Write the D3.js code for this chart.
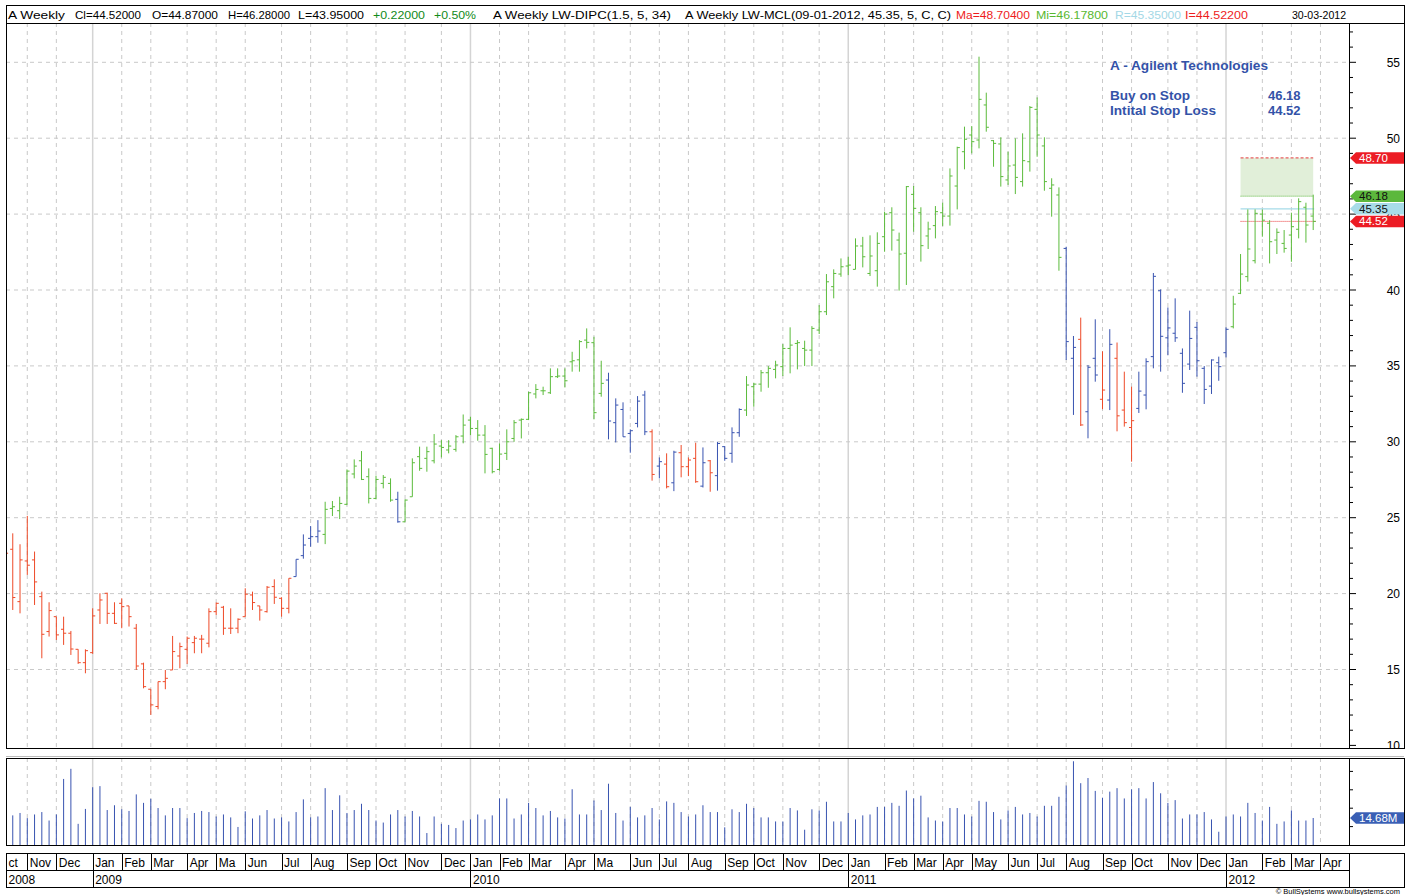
<!DOCTYPE html>
<html><head><meta charset="utf-8">
<script src="https://cdn.jsdelivr.net/npm/d3@7"></script>
<style>body{margin:0;background:#fff;}svg{display:block;}</style>
</head><body>
<svg id="c" width="1413" height="895"></svg>
<script>
// ---------------- DATA ----------------
const startWeek = "2008-10-13"; // Monday of first weekly bar
const opens = [22.3,22.92,19.47,22.15,22.22,19.80,17.50,18.48,17.65,17.39,16.33,15.45,16.11,18.92,20.02,18.70,19.36,19.19,17.72,15.37,
13.70,12.56,14.20,14.97,15.89,16.33,16.77,17.00,16.73,18.81,19.10,17.72,17.72,18.48,19.91,19.19,18.81,20.46,19.69,19.03,
21.12,22.5,23.64,23.75,23.90,25.61,25.46,25.88,27.88,28.75,27.70,26.27,27.26,27.26,26.21,24.73,26.38,29.02,28.91,28.75,
29.72,29.46,29.50,30.38,31.43,30.88,30.44,29.57,28.18,29.24,30.22,31.43,31.48,33.15,33.36,33.23,34.29,34.33,35.27,35.40,
36.70,36.53,33.19,34.07,31.26,32.13,30.55,31.21,33.08,30.66,28.40,28.53,27.30,29.28,28.36,28.91,27.08,28.75,27.77,29.68,
29.24,30.60,32.09,33.63,33.80,34.55,34.77,34.95,36.15,36.48,36.15,36.04,37.36,38.57,40.22,41.05,41.58,41.36,42.90,41.09,
41.27,43.51,45.09,43.29,42.42,46.30,45.09,43.56,44.24,45.09,44.87,46.85,49.11,50.21,49.88,52.19,49.84,49.62,47.25,48.23,
47.14,48.45,51.90,49.49,46.70,46.26,42.74,35.50,36.75,31.98,35.50,32.80,32.75,35.50,32.09,30.94,32.20,33.08,35.61,39.95,
36.85,37.15,35.83,35.12,37.54,34.84,33.67,35.21,35.87,37.58,39.78,40.88,41.93,45.00,44.40,43.29,43.07,43.62,44.00,45.45,
44.87];
const highs = [23.5,23.97,23.25,25.12,22.77,20.13,19.43,18.48,18.48,17.54,16.33,16.33,19.03,20.02,20.06,19.43,19.69,19.19,18.00,15.45,
13.70,14.20,14.97,17.21,16.77,17.17,17.21,17.28,19.03,19.41,19.19,19.03,18.37,20.35,20.13,19.19,20.50,20.94,19.76,21.01,
22.26,23.90,24.45,24.84,26.05,26.10,26.38,28.18,28.84,29.39,28.25,27.77,27.81,27.59,26.71,26.21,28.91,29.68,29.68,30.51,
30.11,30.11,30.44,31.80,31.65,31.43,31.10,29.61,29.90,30.82,31.43,31.54,33.30,33.80,33.63,34.84,34.84,34.84,35.93,36.70,
37.47,36.92,35.34,34.55,32.86,32.60,30.82,33.01,33.36,30.82,28.97,29.24,29.41,29.79,28.97,29.94,29.63,28.80,30.00,29.72,
30.95,32.20,34.33,33.89,34.73,34.99,35.34,36.44,37.54,36.70,36.66,37.62,39.01,41.05,41.36,42.08,42.19,43.40,43.50,43.60,
43.80,45.16,45.45,43.78,46.85,46.85,45.45,44.50,45.53,45.75,48.01,49.44,50.76,50.80,55.37,53.00,49.88,50.06,49.11,49.99,
50.32,52.12,52.69,50.06,47.36,46.76,42.85,36.97,38.18,35.06,38.07,35.96,37.42,36.54,34.62,33.63,34.62,35.50,41.12,40.04,
38.85,39.45,36.15,38.64,37.89,34.99,35.43,35.61,37.54,39.62,42.37,45.31,45.31,45.30,44.60,44.06,43.95,45.09,46.04,45.75,
46.28];
const lows = [21.4,18.92,18.70,21.23,19.25,15.74,17.17,16.95,16.62,15.96,15.37,14.75,16.03,18.00,18.00,18.00,17.72,17.83,14.97,13.76,
12.01,12.38,13.70,14.97,15.08,15.37,16.07,16.07,16.46,18.59,17.28,17.34,17.39,18.48,18.92,18.22,18.75,19.32,18.48,18.70,
21.12,22.3,23.09,23.35,23.26,25.11,24.91,25.83,27.59,27.48,25.94,26.21,26.93,26.05,24.67,24.73,26.38,28.09,28.03,28.58,
28.97,29.24,29.35,29.90,30.44,30.07,27.92,27.92,28.09,28.80,30.00,30.22,31.43,32.86,33.08,33.15,34.20,33.58,34.62,34.62,
36.15,31.48,32.97,30.16,29.96,30.33,29.28,30.95,30.44,27.44,27.59,26.93,26.75,27.66,27.74,27.30,26.99,26.71,26.78,28.75,
28.62,30.33,31.70,32.31,33.30,33.56,34.18,34.33,34.51,34.77,34.99,34.99,37.10,38.35,39.45,40.87,40.98,41.36,41.49,40.92,
40.22,42.52,42.59,39.96,40.33,43.84,41.87,42.70,43.40,44.22,44.24,45.31,47.95,49.00,49.33,50.43,48.12,46.81,46.92,46.32,
46.81,47.80,48.78,46.54,44.83,41.27,35.39,31.77,31.04,30.23,33.96,32.15,32.09,30.69,31.00,28.69,31.90,32.14,34.84,34.62,
35.70,36.58,33.23,34.73,34.29,32.49,33.15,34.02,35.56,37.47,39.73,40.55,41.75,43.51,41.75,42.37,42.46,41.86,43.40,43.12,
43.95];
const closes = [22.66,19.74,22.22,21.87,20.77,17.32,18.88,17.28,17.39,16.35,15.45,16.24,18.53,19.58,18.70,18.04,19.14,18.48,15.23,13.87,
12.67,14.20,14.42,16.18,16.51,17.06,17.06,17.00,18.81,19.36,17.72,17.72,18.31,19.96,19.41,18.92,20.42,19.76,19.03,21.01,
22.26,23.20,23.75,24.12,25.55,25.72,25.94,28.07,28.40,27.52,26.27,27.52,27.66,26.16,24.73,26.16,28.62,28.25,29.35,29.85,
29.63,29.72,30.33,31.10,30.88,30.44,29.17,28.03,29.19,30.00,31.26,31.48,33.23,33.45,33.36,34.29,34.33,34.02,35.34,36.60,
36.55,31.92,33.85,31.37,32.42,30.33,30.73,32.68,30.66,27.85,28.69,27.04,29.32,28.36,28.80,27.37,28.62,27.96,29.89,28.91,
30.60,32.13,33.74,33.80,34.55,34.84,35.06,36.15,36.37,36.53,36.04,37.47,38.57,40.54,41.09,41.53,41.64,42.90,42.19,42.24,
43.07,45.00,43.95,42.37,46.81,45.38,42.92,44.02,45.16,44.87,47.51,49.38,49.93,49.77,52.56,50.72,49.66,47.47,48.17,47.42,
48.52,52.03,50.21,47.14,46.92,42.15,36.60,36.22,31.11,34.91,34.40,33.41,36.42,31.71,31.26,31.39,33.34,35.28,40.90,36.95,
37.50,36.85,33.85,36.81,35.34,33.45,35.39,34.95,37.41,39.07,41.05,42.70,45.05,44.60,43.18,43.80,42.74,44.17,45.82,44.28,
44.52];
// weekly volume, millions of shares
const volumes = [15.0,16.1,17.4,14.6,16.6,17.9,13.3,16.6,35.9,41.4,11.5,19.6,31.4,32.0,19.0,21.6,19.4,18.5,27.5,22.9,
25.1,20.1,16.1,20.1,20.1,14.6,17.4,18.5,17.9,15.5,16.6,15.0,9.8,18.3,14.4,16.1,19.0,14.4,15.0,12.8,
17.9,24.8,15.0,15.5,30.9,19.0,27.0,17.4,19.0,22.4,19.0,13.3,12.2,16.6,19.0,15.5,18.5,15.5,6.5,15.5,
11.5,10.9,9.2,13.3,13.9,16.6,13.9,16.1,25.3,25.3,14.4,16.6,22.9,20.1,16.1,18.5,15.0,14.4,30.3,16.6,
16.6,24.2,19.0,33.3,17.4,13.3,20.7,15.0,16.1,20.1,13.9,23.7,22.9,17.9,15.5,16.6,21.6,17.9,17.9,9.6,
19.4,17.9,22.4,20.1,15.0,15.0,12.8,12.8,20.1,18.8,8.3,19.4,18.8,23.5,12.8,12.8,17.4,13.9,16.1,16.6,
20.7,20.7,22.9,21.3,29.6,25.3,26.8,15.0,13.3,12.8,20.1,20.1,16.6,15.5,24.0,23.5,17.9,13.9,18.8,20.7,
16.6,17.4,15.5,21.3,21.3,26.2,32.3,45.5,33.6,36.4,29.4,25.7,29.0,30.9,25.3,30.3,30.9,25.3,34.2,28.1,
22.9,24.4,14.4,16.6,16.6,17.9,13.9,7.2,15.5,16.6,15.5,22.9,17.4,13.3,20.7,11.5,12.8,18.8,13.3,13.3,
14.68];
// indicator state of each bar: r = red, b = blue, g = green
const barState = ("rrrrrrrrrrrrrrrrrrrrrrrrrrrrrrrrrrrrrrrr" + "bbbb" + "gggggggggg" + "b" +
  "gggggggggggggggggggggggggggg" + "bbbbbb" + "rbrbrrrbrbbbb" +
  "gggggggggggggggggggggggggggggggggggggggggggg" + "bbrbbrbrrr" + "bbbbbbbbbbbbb" + "gggggggggggg").split("");
const monthLabels = ["ct","Nov","Dec","Jan","Feb","Mar","Apr","Ma","Jun","Jul","Aug","Sep","Oct","Nov","Dec",
  "Jan","Feb","Mar","Apr","Ma","Jun","Jul","Aug","Sep","Oct","Nov","Dec",
  "Jan","Feb","Mar","Apr","May","Jun","Jul","Aug","Sep","Oct","Nov","Dec",
  "Jan","Feb","Mar","Apr"];
const yearLabels = ["2008","2009","2010","2011","2012"];
const priceTicks = [10,15,20,25,30,35,40,45,50,55];
const volumeTicks = [10,20,30,40];
const levelValues = [48.70, 46.18, 45.35, 44.52];   // Ma, Mi, R, I
const levelLabels = ["48.70","46.18","45.35","44.52"];
const setupStartIndex = 170;
const lastVolumeLabel = "14.68M";

// ---------------- LAYOUT ----------------
const svg = d3.select("#c");
const L = 6, R = 1404, AX = 1349;
const hTop = 5, pTop = 23, pBot = 748, vTop = 758, vBot = 845, dTop = 853, dMid = 870, dBot = 887;
const nAxis = 182;

const x = d3.scaleLinear().domain([0, 180]).range([5.5, 1313.2]);
const y = d3.scaleLinear().domain([10, 55]).range([745.4, 62.3]);
const yv = d3.scaleLinear().domain([0, 40]).range([vBot, 771.4]);

const t0 = d3.timeParse("%Y-%m-%d")(startWeek);
const weekDates = d3.range(nAxis).map(i => d3.timeWeek.offset(t0, i));
const monthBounds = [], yearBounds = [];
for (let i = 1; i < nAxis; i++) {
  if (weekDates[i].getMonth() !== weekDates[i-1].getMonth()) monthBounds.push(i);
  if (weekDates[i].getFullYear() !== weekDates[i-1].getFullYear()) yearBounds.push(i);
}

const col = {r: "#ee4a28", b: "#3853b0", g: "#5bbb3b"};
const font = "'Liberation Sans', Arial, sans-serif";

const defs = svg.append("defs");
defs.append("clipPath").attr("id", "pclip").append("rect").attr("x", L).attr("y", pTop).attr("width", AX - L).attr("height", pBot - pTop);
defs.append("clipPath").attr("id", "vclip").append("rect").attr("x", L).attr("y", vTop).attr("width", AX - L).attr("height", vBot - vTop);
defs.append("clipPath").attr("id", "aclip").append("rect").attr("x", AX).attr("y", pTop).attr("width", R - AX).attr("height", pBot - pTop);

// ---------- grids ----------
function vGrid(g, top, bot) {
  g.selectAll("line.m").data(monthBounds.filter(i => !yearBounds.includes(i))).join("line")
    .attr("x1", d => x(d)).attr("x2", d => x(d)).attr("y1", top).attr("y2", bot)
    .attr("stroke", "#c9c9c9").attr("stroke-dasharray", "4,4");
  g.selectAll("line.y").data(yearBounds).join("line").attr("class","y")
    .attr("x1", d => x(d)).attr("x2", d => x(d)).attr("y1", top).attr("y2", bot)
    .attr("stroke", "#d4d4d4").attr("stroke-width", 1.5);
}
const pg = svg.append("g").attr("clip-path", "url(#pclip)");
vGrid(pg, pTop, pBot);
pg.selectAll("line.h").data(priceTicks.filter(v => v > 10)).join("line").attr("class","h")
  .attr("x1", L).attr("x2", AX).attr("y1", d => y(d)).attr("y2", d => y(d))
  .attr("stroke", "#c9c9c9").attr("stroke-dasharray", "4,4");

// ---------- LW-MCL setup zone ----------
const xs = x(setupStartIndex), xe = x(180);
pg.append("rect").attr("x", xs).attr("y", y(levelValues[0])).attr("width", xe - xs)
  .attr("height", y(levelValues[1]) - y(levelValues[0])).attr("fill", "#e1efd9");
pg.append("line").attr("x1", xs).attr("x2", xe).attr("y1", y(levelValues[0])).attr("y2", y(levelValues[0]))
  .attr("stroke", "#e86060").attr("stroke-width", 1.2).attr("stroke-dasharray", "3,2");
pg.append("line").attr("x1", xs).attr("x2", xe).attr("y1", y(levelValues[1])).attr("y2", y(levelValues[1]))
  .attr("stroke", "#5cb83c").attr("stroke-dasharray", "1,1");
pg.append("line").attr("x1", xs).attr("x2", xe + 1).attr("y1", y(levelValues[2])).attr("y2", y(levelValues[2]))
  .attr("stroke", "#a6dbe8").attr("stroke-width", 1.3);
pg.append("line").attr("x1", xs).attr("x2", xe + 3).attr("y1", y(levelValues[3])).attr("y2", y(levelValues[3]))
  .attr("stroke", "#e83a3a").attr("stroke-dasharray", "1,1");

// ---------- OHLC bars ----------
const bars = d3.range(opens.length).map(i => ({i, o: opens[i], h: highs[i], l: lows[i], c: closes[i], s: barState[i]}));
const bg = pg.append("g");
bg.selectAll("line.hl").data(bars).join("line").attr("class","hl")
  .attr("x1", d => x(d.i)).attr("x2", d => x(d.i)).attr("y1", d => y(d.h)).attr("y2", d => y(d.l))
  .attr("stroke", d => col[d.s]).attr("stroke-width", 1);
bg.selectAll("line.o").data(bars).join("line").attr("class","o")
  .attr("x1", d => x(d.i) - 2.6).attr("x2", d => x(d.i)).attr("y1", d => y(d.o)).attr("y2", d => y(d.o))
  .attr("stroke", d => col[d.s]);
bg.selectAll("line.c").data(bars).join("line").attr("class","c")
  .attr("x1", d => x(d.i)).attr("x2", d => x(d.i) + 2.6).attr("y1", d => y(d.c)).attr("y2", d => y(d.c))
  .attr("stroke", d => col[d.s]);

// ---------- annotation ----------
const ann = svg.append("g").attr("fill", "#3352a8").attr("font-family", font).attr("font-weight", "bold").attr("font-size", 13);
ann.append("text").attr("x", 1110).attr("y", 70).attr("textLength", 158).attr("lengthAdjust", "spacingAndGlyphs").text("A - Agilent Technologies");
ann.append("text").attr("x", 1110).attr("y", 100).attr("textLength", 80).attr("lengthAdjust", "spacingAndGlyphs").text("Buy on Stop");
ann.append("text").attr("x", 1268).attr("y", 100).text(levelLabels[1]);
ann.append("text").attr("x", 1110).attr("y", 115).attr("textLength", 106).attr("lengthAdjust", "spacingAndGlyphs").text("Intital Stop Loss");
ann.append("text").attr("x", 1268).attr("y", 115).text(levelLabels[3]);

// ---------- price axis ----------
const ag = svg.append("g").attr("clip-path", "url(#aclip)");
ag.selectAll("line.mt").data(d3.range(10, 58)).join("line").attr("class","mt")
  .attr("x1", AX).attr("x2", d => AX + (d % 5 === 0 ? 7 : 4)).attr("y1", d => y(d)).attr("y2", d => y(d))
  .attr("stroke", "#000");
ag.selectAll("text").data(priceTicks).join("text")
  .attr("x", 1400).attr("y", d => y(d) + 4.5).attr("text-anchor", "end")
  .attr("font-family", font).attr("font-size", 12).text(d => d);

function flag(g, yc, fill, tc, label) {
  const h = 11.5, x0 = 1350;
  g.append("path").attr("d", `M${x0},${yc} L${x0+6},${yc-h/2} L${R},${yc-h/2} L${R},${yc+h/2} L${x0+6},${yc+h/2} Z`).attr("fill", fill);
  g.append("text").attr("x", x0 + 9).attr("y", yc + 4).attr("fill", tc).attr("font-family", font).attr("font-size", 11.5).text(label);
}
const flagFill = ["#ec1c24", "#5cb83c", "#a8dce8", "#ec1c24"];
const flagText = ["#fff", "#111", "#111", "#fff"];
levelValues.forEach((v, k) => flag(svg, y(v), flagFill[k], flagText[k], levelLabels[k]));

// ---------- volume panel ----------
const vg = svg.append("g").attr("clip-path", "url(#vclip)");
vGrid(vg, vTop, vBot);
vg.selectAll("line.v").data(volumes.map((v, i) => ({i, v}))).join("line").attr("class","v")
  .attr("x1", d => x(d.i)).attr("x2", d => x(d.i)).attr("y1", yv(0)).attr("y2", d => yv(d.v))
  .attr("stroke", "#3853b0");
svg.selectAll("line.vt").data(volumeTicks).join("line").attr("class","vt")
  .attr("x1", AX).attr("x2", AX + 4).attr("y1", d => yv(d)).attr("y2", d => yv(d)).attr("stroke", "#000");
flag(svg, yv(volumes[volumes.length - 1]), "#3a5fb5", "#fff", lastVolumeLabel);

// ---------- frames ----------
const fr = svg.append("g").attr("fill", "none").attr("stroke", "#000");
fr.append("rect").attr("x", L + 0.5).attr("y", hTop + 0.5).attr("width", R - L).attr("height", pTop - hTop);
fr.append("rect").attr("x", L + 0.5).attr("y", pTop + 0.5).attr("width", R - L).attr("height", pBot - pTop);
fr.append("line").attr("x1", AX + 0.5).attr("x2", AX + 0.5).attr("y1", pTop).attr("y2", pBot);
fr.append("line").attr("x1", L).attr("x2", R).attr("y1", vTop - 1.5).attr("y2", vTop - 1.5).attr("stroke", "#bbb");
fr.append("rect").attr("x", L + 0.5).attr("y", vTop + 0.5).attr("width", R - L).attr("height", vBot - vTop);
fr.append("line").attr("x1", AX + 0.5).attr("x2", AX + 0.5).attr("y1", vTop).attr("y2", vBot);

// ---------- date axis ----------
const dg = svg.append("g");
dg.append("rect").attr("x", L + 0.5).attr("y", dTop + 0.5).attr("width", R - L).attr("height", dBot - dTop).attr("fill", "none").attr("stroke", "#000");
dg.append("line").attr("x1", L).attr("x2", AX).attr("y1", dMid + 0.5).attr("y2", dMid + 0.5).attr("stroke", "#000");
dg.append("line").attr("x1", AX + 0.5).attr("x2", AX + 0.5).attr("y1", dTop).attr("y2", dBot).attr("stroke", "#000");
const mStarts = [L].concat(monthBounds.map(i => x(i)));
dg.selectAll("line.ms").data(monthBounds).join("line").attr("class","ms")
  .attr("x1", d => Math.round(x(d)) + 0.5).attr("x2", d => Math.round(x(d)) + 0.5).attr("y1", dTop).attr("y2", dMid).attr("stroke", "#000");
dg.selectAll("text.ml").data(monthLabels).join("text").attr("class","ml")
  .attr("x", (d, k) => mStarts[k] + 2.5).attr("y", dMid - 3.5)
  .attr("font-family", font).attr("font-size", 12).text(d => d);
const yStarts = [L].concat(yearBounds.map(i => x(i)));
dg.selectAll("line.ys").data(yearBounds).join("line").attr("class","ys")
  .attr("x1", d => Math.round(x(d)) + 0.5).attr("x2", d => Math.round(x(d)) + 0.5).attr("y1", dMid).attr("y2", dBot).attr("stroke", "#000");
dg.selectAll("text.yl").data(yearLabels).join("text").attr("class","yl")
  .attr("x", (d, k) => yStarts[k] + 2.5).attr("y", dBot - 3.5)
  .attr("font-family", font).attr("font-size", 12).text(d => d);
svg.append("text").attr("x", 1400).attr("y", 893.5).attr("text-anchor", "end").attr("font-family", font)
  .attr("font-size", 7.5).text("© BullSystems  www.bullsystems.com");

// ---------- header ----------
const hdr = [
  {t: "A  Weekly", x: 8, w: 57, c: "#000"},
  {t: "Cl=44.52000", x: 75, w: 66, c: "#000"},
  {t: "O=44.87000", x: 152, w: 66, c: "#000"},
  {t: "H=46.28000", x: 228, w: 62, c: "#000"},
  {t: "L=43.95000", x: 298, w: 66, c: "#000"},
  {t: "+0.22000", x: 373, w: 52, c: "#118a1a"},
  {t: "+0.50%", x: 434, w: 42, c: "#118a1a"},
  {t: "A  Weekly  LW-DIPC(1.5, 5, 34)", x: 493, w: 178, c: "#000"},
  {t: "A  Weekly  LW-MCL(09-01-2012, 45.35, 5, C, C)", x: 685, w: 266, c: "#000"},
  {t: "Ma=48.70400", x: 956, w: 74, c: "#ee1c1c"},
  {t: "Mi=46.17800", x: 1036, w: 72, c: "#58b830"},
  {t: "R=45.35000", x: 1115, w: 66, c: "#a3d8e6"},
  {t: "I=44.52200", x: 1185, w: 63, c: "#ee1c1c"},
  {t: "30-03-2012", x: 1292, w: 54, c: "#000"}
];
svg.append("g").selectAll("text").data(hdr).join("text")
  .attr("x", d => d.x).attr("y", 18.5).attr("fill", d => d.c)
  .attr("font-family", font).attr("font-size", 11.5)
  .attr("textLength", d => d.w).attr("lengthAdjust", "spacingAndGlyphs").text(d => d.t);
</script>
</body></html>
